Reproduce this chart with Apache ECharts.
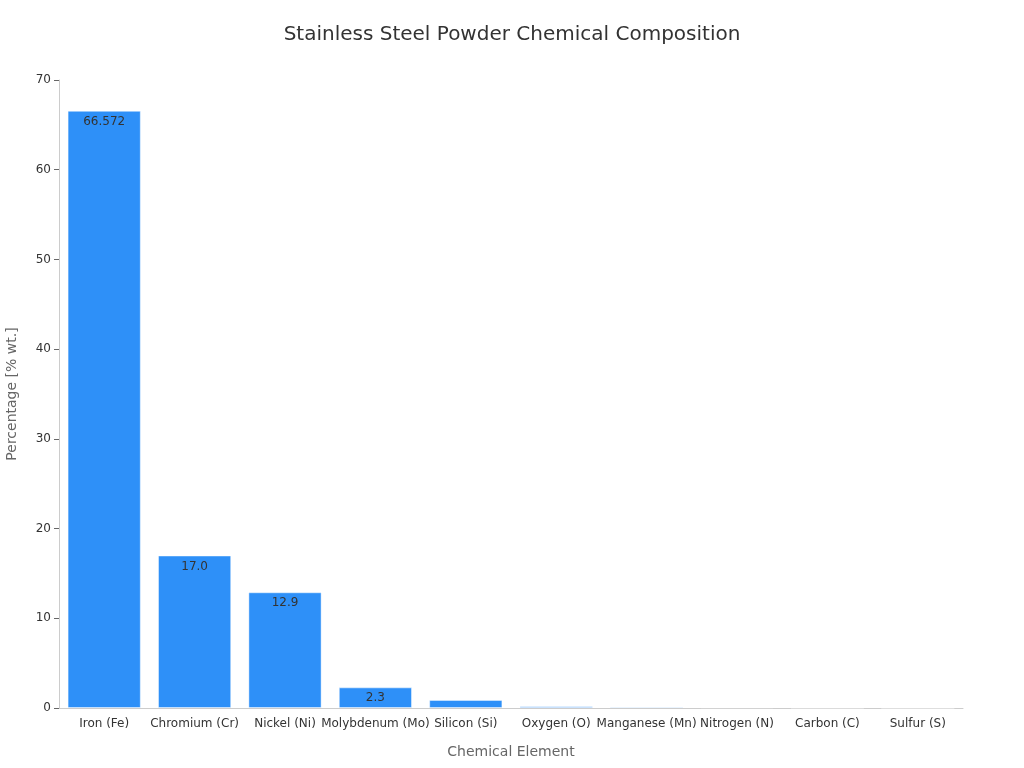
<!DOCTYPE html>
<html>
<head>
<meta charset="utf-8">
<script src="https://cdn.jsdelivr.net/npm/echarts@6/dist/echarts.min.js"></script>
<style>
html, body { margin: 0; padding: 0; background: #fff; }
#chart { width: 1024px; height: 768px; }
</style>
</head>
<body>
<div id="chart"></div>
<script>
var elements = ['Iron (Fe)', 'Chromium (Cr)', 'Nickel (Ni)', 'Molybdenum (Mo)', 'Silicon (Si)',
    'Oxygen (O)', 'Manganese (Mn)', 'Nitrogen (N)', 'Carbon (C)', 'Sulfur (S)'];
var percents = [66.572, 17.0, 12.9, 2.3, 0.9, 0.2, 0.15, 0.08, 0.03, 0.01];
var labelTexts = ['66.572', '17.0', '12.9', '2.3', '', '', '', '', '', ''];
var yTicks = [0, 10, 20, 30, 40, 50, 60, 70];

var myChart = echarts.init(document.getElementById('chart'));
var option = {
    backgroundColor: '#fff',
    textStyle: { fontFamily: 'DejaVu Sans' },
    title: {
        text: 'Stainless Steel Powder Chemical Composition',
        left: 'center',
        top: 20,
        textStyle: { fontSize: 20, fontWeight: 'normal', color: '#333' }
    },
    grid: { left: 59, right: 61, top: 80, bottom: 60, outerBoundsMode: 'none' },
    xAxis: {
        type: 'category',
        data: elements,
        name: 'Chemical Element',
        nameLocation: 'middle',
        nameGap: 37,
        nameTextStyle: { fontSize: 14, color: '#666' },
        axisLine: { lineStyle: { color: '#ccc' } },
        axisTick: { alignWithLabel: true, lineStyle: { color: '#666' } },
        axisLabel: { color: '#333', fontSize: 12, interval: 0, margin: 10 }
    },
    yAxis: {
        type: 'value',
        min: yTicks[0],
        max: yTicks[yTicks.length - 1],
        interval: 10,
        name: 'Percentage [% wt.]',
        nameLocation: 'middle',
        nameGap: 40,
        nameTextStyle: { fontSize: 14, color: '#666' },
        axisLine: { show: true, lineStyle: { color: '#ccc' } },
        axisTick: { show: true, lineStyle: { color: '#666' } },
        axisLabel: { color: '#333', fontSize: 12, margin: 8 },
        splitLine: { show: false }
    },
    series: [{
        type: 'bar',
        data: percents,
        barCategoryGap: '19%',
        itemStyle: {
            color: '#2E90F8',
            borderColor: 'rgba(255,255,255,0.45)',
            borderWidth: 1
        },
        label: {
            show: true,
            position: 'insideTop',
            distance: 5,
            color: '#333',
            fontSize: 12,
            formatter: function (p) { return labelTexts[p.dataIndex]; }
        }
    }]
};
myChart.setOption(option);
</script>
</body>
</html>
